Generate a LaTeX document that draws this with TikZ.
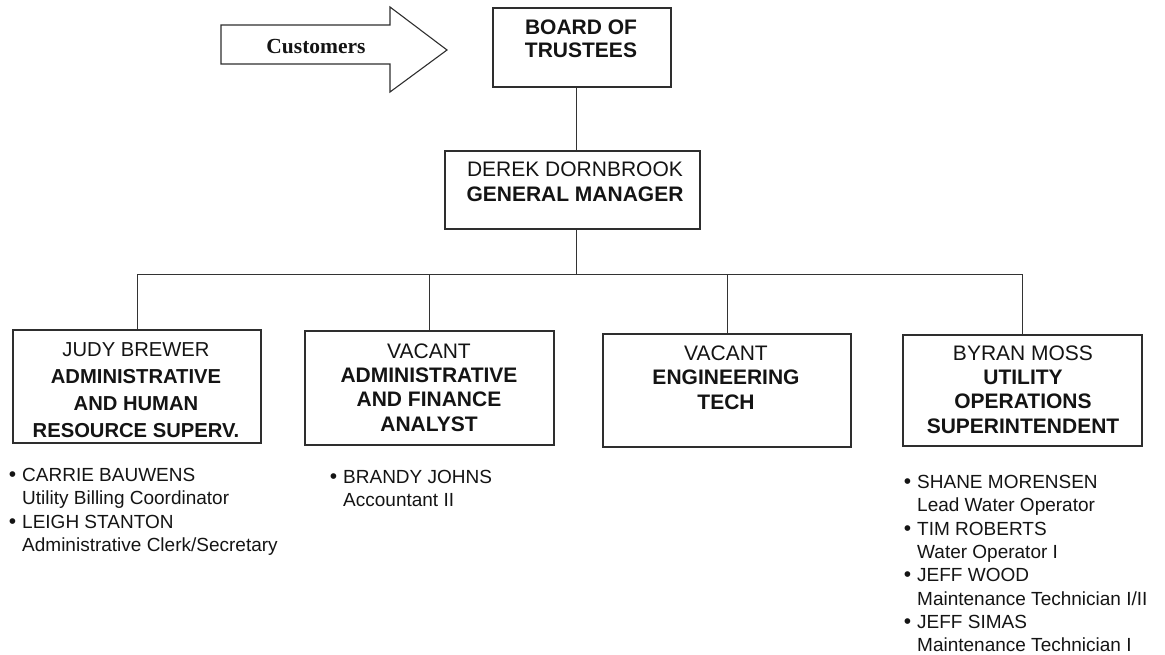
\documentclass[tikz,border=0pt]{standalone}
\usepackage{fontspec}
\setmainfont{Liberation Sans}
\newfontfamily\custfont{Liberation Serif}
\begin{document}
\begin{tikzpicture}[x=1pt,y=-1pt,
  ink/.style={draw=black!82, line width=1.1pt},
  post/.style={ink, rectangle, inner sep=0pt},
  title/.style={align=center, inner sep=0pt, text=black!92, font=\fontsize{21}{25}\selectfont},
  staff/.style={align=left, inner sep=0pt, anchor=north west, text=black!92, font=\fontsize{19}{23.3}\selectfont},
  link/.style={draw=black!80, line width=1pt}]
\useasboundingbox (0,0) rectangle (1165,655);

% customers arrow
\draw[ink, line join=miter] (221,25) -- (390,25) -- (390,7) -- (447,50) -- (390,92) -- (390,64) -- (221,64) -- cycle;
\node[inner sep=0pt, text=black!92, font=\custfont\bfseries\fontsize{21.5}{24}\selectfont] (cust) at (316,47) {Customers};

% boxes
\node[post, minimum width=178pt, minimum height=79pt] (board) at (582,47.5) {};
\node[title, font=\fontsize{21}{23}\selectfont\bfseries] (boardt) at (581,38.5) {BOARD OF\\TRUSTEES};

\node[post, minimum width=255pt, minimum height=78pt] (gm) at (572.5,190) {};
\node[title] (gmt) at (575,181.5) {DEREK DORNBROOK\\\textbf{GENERAL MANAGER}};

\node[post, minimum width=248pt, minimum height=113pt] (b1) at (137,386.5) {};
\node[title, font=\fontsize{20.2}{27}\selectfont] (b1t) at (136,390.5)
  {JUDY BREWER\\\textbf{ADMINISTRATIVE}\\\textbf{AND HUMAN}\\\textbf{RESOURCE SUPERV.}};

\node[post, minimum width=249pt, minimum height=114pt] (b2) at (429.5,388) {};
\node[title, font=\fontsize{21}{24.3}\selectfont] (b2t) at (429,387.5)
  {VACANT\\\textbf{ADMINISTRATIVE}\\\textbf{AND FINANCE}\\\textbf{ANALYST}};

\node[post, minimum width=248pt, minimum height=113pt] (b3) at (727,390.5) {};
\node[title, font=\fontsize{21}{24.5}\selectfont] (b3t) at (726,377.5)
  {VACANT\\\textbf{ENGINEERING}\\\textbf{TECH}};

\node[post, minimum width=239pt, minimum height=111pt] (b4) at (1022.5,390.5) {};
\node[title, font=\fontsize{21}{24.3}\selectfont] (b4t) at (1023,389.5)
  {BYRAN MOSS\\\textbf{UTILITY}\\\textbf{OPERATIONS}\\\textbf{SUPERINTENDENT}};

% connectors
\coordinate (spine) at (576,0);
\coordinate (bus) at (0,275);
\draw[link] (spine |- board.south) -- (spine |- gm.north);
\draw[link] (spine |- gm.south) -- (spine |- bus);
\draw[link] (b1.north) -- (b1.north |- bus) -- (b4.north |- bus) -- (b4.north);
\draw[link] (b2.north) -- (b2.north |- bus);
\draw[link] (b3.north) -- (b3.north |- bus);

% staff lists
\newcommand{\bul}{\llap{\fontsize{21}{21}\selectfont\textbullet\hspace{6pt}}}
\node[staff] (s1) at (22,468.2)
  {\bul CARRIE BAUWENS\\Utility Billing Coordinator\\\bul LEIGH STANTON\\Administrative Clerk/Secretary};
\node[staff] (s2) at (343,470)
  {\bul BRANDY JOHNS\\Accountant II};
\node[staff] (s4) at (917,475.2)
  {\bul SHANE MORENSEN\\Lead Water Operator\\\bul TIM ROBERTS\\Water Operator I\\\bul JEFF WOOD\\Maintenance Technician I/II\\\bul JEFF SIMAS\\Maintenance Technician I};
\end{tikzpicture}
\end{document}
